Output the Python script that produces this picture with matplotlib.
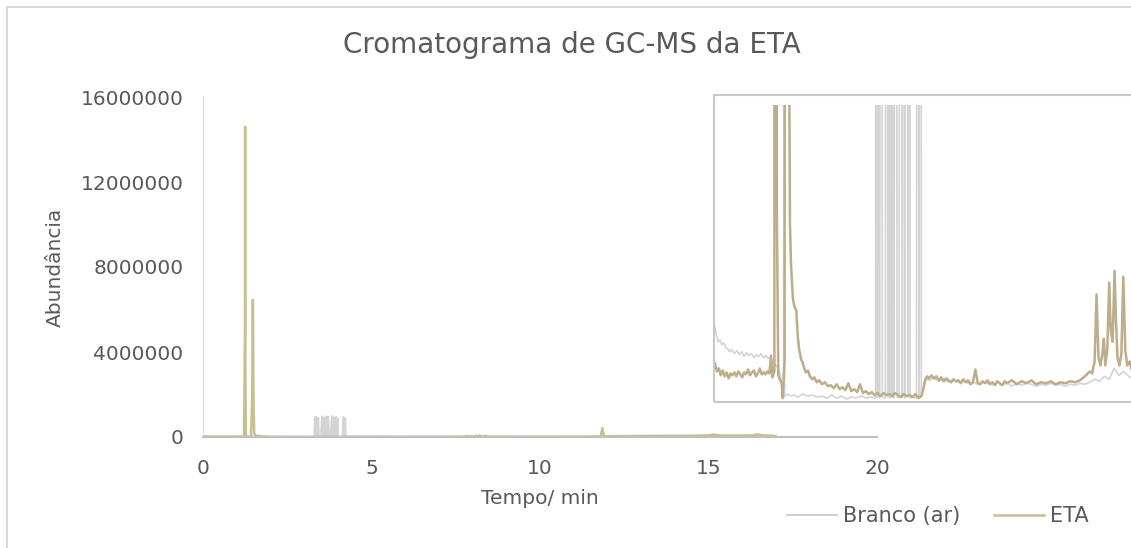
import matplotlib
matplotlib.use("Agg")
import matplotlib.pyplot as plt
from matplotlib.lines import Line2D
from matplotlib.patches import Rectangle

# tempo (min) e abundancia - ETA
eta_t = [0.00, 0.04, 0.08, 0.12, 0.16, 0.20, 0.24, 0.28, 0.32, 0.36, 0.40, 0.44, 0.48, 0.52,
         0.56, 0.60, 0.64, 0.68, 0.72, 0.76, 0.80, 0.84, 0.88, 0.92, 0.96, 1.00, 1.04, 1.08,
         1.12, 1.15, 1.18, 1.22, 1.245, 1.25, 1.255, 1.27, 1.30, 1.33, 1.37, 1.39, 1.43, 1.46,
         1.48, 1.50, 1.52, 1.54, 1.56, 1.60, 1.63, 1.67, 1.70, 1.73, 1.77, 1.80, 1.84, 1.87,
         1.91, 1.95, 2.00, 2.04, 2.09, 2.14, 2.20, 2.26, 2.32, 2.38, 2.44, 2.50, 2.56, 2.62,
         2.68, 2.74, 2.80, 2.86, 2.92, 2.98, 3.04, 3.10, 3.16, 3.22, 3.28, 3.34, 3.40, 3.46,
         3.52, 3.58, 3.64, 3.70, 3.76, 3.82, 3.88, 3.94, 4.00, 4.06, 4.12, 4.18, 4.24, 4.28,
         4.32, 4.36, 4.40, 4.45, 4.50, 4.55, 4.60, 4.65, 4.70, 4.75, 4.80, 4.85, 4.90, 4.95,
         5.00, 5.05, 5.10, 5.15, 5.20, 5.25, 5.30, 5.35, 5.40, 5.45, 5.50, 5.55, 5.60, 5.65,
         5.70, 5.75, 5.80, 5.85, 5.90, 5.95, 6.00, 6.10, 6.20, 6.30, 6.40, 6.50, 6.60, 6.70,
         6.80, 6.90, 7.00, 7.10, 7.20, 7.30, 7.40, 7.50, 7.60, 7.70, 7.75, 7.80, 7.84, 7.88,
         7.92, 7.96, 7.99, 8.02, 8.06, 8.10, 8.13, 8.17, 8.21, 8.24, 8.27, 8.31, 8.35, 8.39,
         8.43, 8.47, 8.52, 8.56, 8.80, 9.20, 9.80, 10.4, 11.0, 11.6, 11.8, 11.85, 11.9, 12.2,
         12.8, 13.4, 14.0, 14.6, 15.0, 15.15, 15.3, 15.8, 16.3, 16.45, 16.6, 16.9, 17.0]
eta_y = [19000, 15000, 16500, 13000, 15500, 12500, 14500, 11500, 14000, 13000, 14500, 12500,
         15000, 13500, 12000, 14500, 13500, 16000, 13000, 14500, 15500, 12500, 14000, 16500,
         13500, 14500, 13500, 15000, 14000, 23000, 12000, 15000, 5000000, 14600000, 4000000,
         100000, 13000, 11000, 9000, 1500, 20000, 2000000, 6450000, 1500000, 200000, 90000,
         70500, 52000, 48000, 46000, 33000, 26000, 21000, 19500, 16000, 14500, 15500, 12500,
         11000, 12000, 9500, 10500, 8500, 9500, 7500, 8000, 6500, 8500, 6000, 7000, 5500,
         9000, 5000, 6000, 4500, 8500, 4000, 5000, 3500, 4500, 3000, 4000, 2500, 4000, 3000,
         3500, 2500, 4000, 3000, 2000, 3500, 2500, 3000, 2000, 3500, 1500, 2500, 6000, 11000,
         12500, 11500, 13000, 11500, 12500, 10500, 12000, 10000, 11500, 10500, 9500, 11000,
         10000, 10500, 9000, 11000, 9500, 10500, 8500, 9500, 16000, 9000, 8500, 10000, 9000,
         10500, 8500, 9500, 8000, 10000, 9000, 8000, 10000, 9000, 10500, 8500, 10000, 9000,
         10500, 8500, 9500, 9000, 10000, 8500, 9500, 9000, 10000, 9500, 10500, 12500, 15000,
         14000, 20000, 54000, 22000, 18000, 24000, 31500, 18000, 26000, 60000, 36000, 30000,
         66000, 40500, 22000, 18000, 24000, 63000, 26000, 18000, 20000, 16000, 14000, 13000,
         12000, 13000, 14000, 16000, 20000, 420000, 30000, 40000, 45000, 50000, 55000, 60000,
         75000, 110000, 70000, 68000, 75000, 120000, 80000, 60000, 30000]

# Branco (ar)
branco_t = [0.00, 0.03, 0.06, 0.10, 0.14, 0.18, 0.22, 0.26, 0.30, 0.35, 0.40, 0.45, 0.50,
            0.55, 0.60, 0.65, 0.70, 0.75, 0.80, 0.85, 0.90, 0.95, 1.00, 1.05, 1.10, 1.15,
            1.20, 1.25, 1.30, 1.34, 1.38, 1.41, 1.42, 1.43, 1.48, 1.55, 1.62, 1.70, 1.80,
            1.90, 2.00, 2.10, 2.20, 2.30, 2.40, 2.50, 2.60, 2.70, 2.80, 2.90, 3.00, 3.10,
            3.20, 3.30, 3.32, 3.34, 3.36, 3.38, 3.42, 3.44, 3.50, 3.53, 3.55, 3.57, 3.59,
            3.62, 3.64, 3.66, 3.68, 3.72, 3.74, 3.78, 3.83, 3.85, 3.88, 3.90, 3.95, 3.97,
            3.99, 4.01, 4.08, 4.14, 4.17, 4.19, 4.22, 4.24, 4.28, 4.32, 4.36, 4.40, 4.50,
            4.60, 4.70, 4.80, 4.90, 5.00, 5.10, 5.20, 5.30, 5.40, 5.50, 5.60, 5.70, 5.80,
            5.90, 6.00, 6.10, 6.20, 6.30, 6.40, 6.50, 6.60, 6.70, 6.80, 6.90, 7.00, 7.10,
            7.20, 7.30, 7.40, 7.50, 7.60, 7.70, 7.80, 7.90, 8.00, 8.10, 8.20, 8.30, 8.40,
            8.50, 8.60, 9.2, 10.0, 10.8, 11.5, 12.2, 13.0, 14.0, 15.0, 16.0, 17.0]
branco_y = [37500, 33000, 30000, 31000, 28500, 29500, 27000, 26500, 25000, 26000, 24000,
            25500, 23500, 25000, 22500, 24500, 23000, 24000, 22000, 23500, 22500, 24000,
            22000, 23000, 21500, 22000, 19000, 18000, 16500, 14000, 8000, 2500, 400000, 2000,
            3500, 2500, 3000, 2000, 3500, 2500, 3000, 2000, 2500, 1500, 3000, 1500, 2500,
            1000, 2000, 1500, 2500, 1500, 2000, 1500, 920000, 2000, 960000, 1500, 900000,
            2000, 1500, 980000, 2000, 940000, 1500, 900000, 2000, 970000, 1500, 950000, 2000,
            1500, 990000, 2000, 930000, 1500, 960000, 2000, 900000, 1500, 2000, 1500, 940000,
            2000, 880000, 2500, 6000, 10000, 11000, 10500, 11500, 10000, 11000, 9500, 10500,
            9500, 10000, 9000, 9500, 8500, 9500, 9000, 8500, 9500, 8000, 9000, 7500, 9000,
            8000, 9000, 8500, 7500, 8500, 8000, 9000, 8000, 8500, 7500, 8500, 8000, 9000,
            8500, 9500, 11000, 10000, 12500, 11000, 16500, 13000, 15000, 12500, 11000, 10000,
            11000, 12000, 13000, 20000, 30000, 35000, 40000, 42000, 25000]

y_ticks = [0, 4000000, 8000000, 12000000, 16000000]
x_ticks = [0, 5, 10, 15, 20]

plt.rcParams['font.family'] = ['DejaVu Sans']
txt = '#595959'
cor_eta = '#c7c08c'
cor_eta_zoom = '#bead8a'
cor_branco = '#d4d4d4'

W, H = 1131, 548
fig = plt.figure(figsize=(W / 100, H / 100), dpi=100)

def box(x0, y0, x1, y1):
    # pixel coords (top-left origin) -> figure fraction
    return [x0 / W, 1 - y1 / H, (x1 - x0) / W, (y1 - y0) / H]

# main plot
ax = fig.add_axes(box(203, 97, 877, 437))
ax.plot(branco_t, branco_y, color=cor_branco, lw=1.4)
ax.plot(eta_t, eta_y, color=cor_eta, lw=1.8)
ax.set_xlim(0, 20)
ax.set_ylim(0, 16000000)
ax.set_xticks(x_ticks)
ax.set_yticks(y_ticks)
ax.set_yticklabels([str(v) for v in y_ticks])
ax.tick_params(length=0, labelsize=14.5, colors=txt, pad=14)
ax.tick_params(axis='x', pad=16)
for s in ['top', 'right']:
    ax.spines[s].set_visible(False)
ax.spines['left'].set_color('#d9d9d9')
ax.spines['bottom'].set_color('#bfbfbf')
ax.spines['bottom'].set_linewidth(1.5)
ax.set_xlabel('Tempo/ min', fontsize=14.5, color=txt, labelpad=8)
ax.set_ylabel('Abundância', fontsize=14.5, color=txt, labelpad=11)

fig.text(572 / W, 1 - 45 / H, 'Cromatograma de GC-MS da ETA', fontsize=20, color=txt,
         ha='center', va='center')

# zoom (inset)
fig.patches.append(Rectangle((714 / W, 1 - 402 / H), (1140 - 714) / W, (402 - 95) / H,
                             transform=fig.transFigure, fill=False, ec='#c8c8c8', lw=1.5))
axi = fig.add_axes(box(715, 105, 1135, 401))
axi.plot(branco_t, branco_y, color=cor_branco, lw=1.2)
axi.plot(eta_t, eta_y, color=cor_eta_zoom, lw=1.8)
axi.set_xlim(0, 8.63)
axi.set_ylim(0, 150000)
axi.axis('off')

# legenda
handles = [Line2D([], [], color='#c8c8c8', lw=1.3), Line2D([], [], color=cor_eta, lw=1.8)]
fig.legend(handles, ['Branco (ar)', 'ETA'], loc='center', bbox_to_anchor=(938 / W, 1 - 516 / H),
           ncol=2, frameon=False, fontsize=15, labelcolor=txt, handlelength=2.4,
           handletextpad=0.3, columnspacing=1.6)

# moldura
fig.add_artist(Line2D([7 / W, 1], [1 - 7 / H, 1 - 7 / H], color='#d9d9d9', lw=1.5))
fig.add_artist(Line2D([7 / W, 7 / W], [0, 1 - 7 / H], color='#d9d9d9', lw=1.5))

fig.savefig('out.png', dpi=100, facecolor='white')
